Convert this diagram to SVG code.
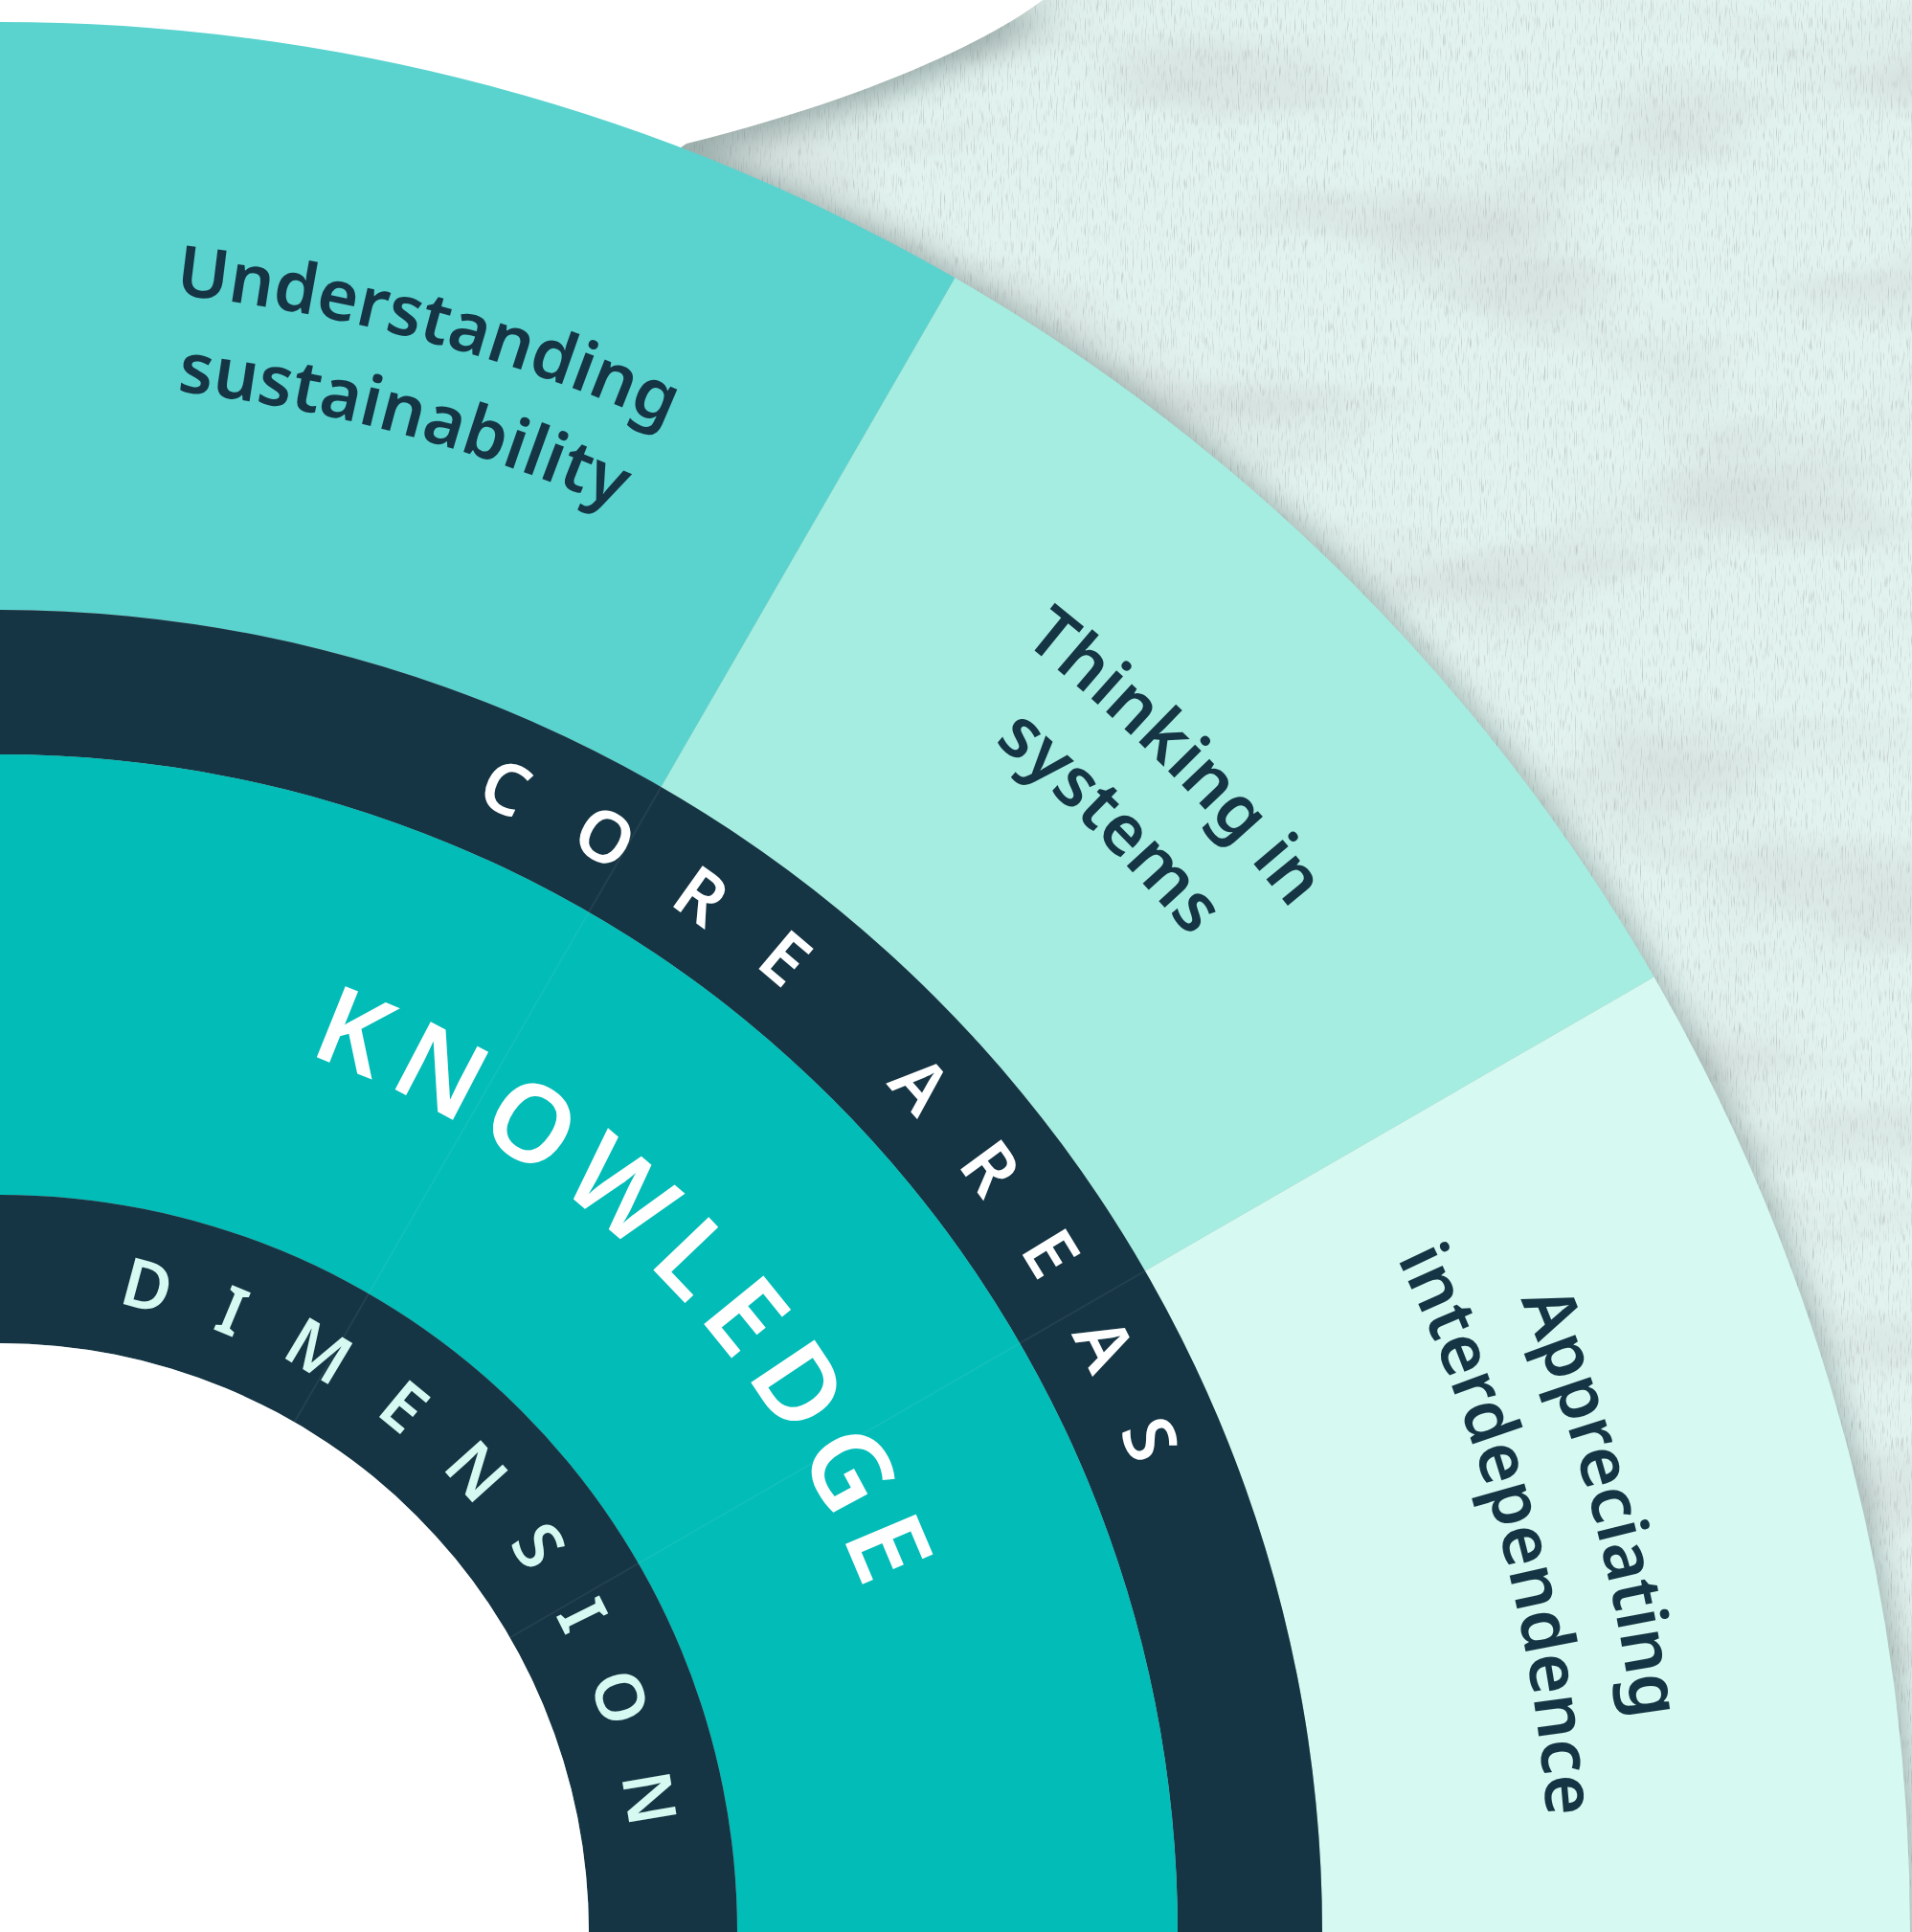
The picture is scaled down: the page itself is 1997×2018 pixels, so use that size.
<svg xmlns="http://www.w3.org/2000/svg" width="1997" height="2018" viewBox="0 0 1997 2018">
  <style>
    .lbl { font-family: "Noto Sans", "Liberation Sans", sans-serif; font-size: 73px; font-weight: 600; fill: #163544; }
    .ring { font-family: "Noto Sans", "Liberation Sans", sans-serif; font-weight: 600; }
    .seam { stroke: #ffffff; stroke-opacity: 0.06; stroke-width: 2; fill: none; }
  </style>
  <defs>
    <filter id="grain" filterUnits="userSpaceOnUse" x="0" y="0" width="1997" height="2018">
      <feTurbulence type="fractalNoise" baseFrequency="0.9 0.06" numOctaves="2" seed="7" result="fine"/>
      <feColorMatrix in="fine" type="matrix" values="0 0 0 0 0.45  0 0 0 0 0.5  0 0 0 0 0.5  2.2 0 0 0 -1.2" result="fineA"/>
      <feTurbulence type="fractalNoise" baseFrequency="0.003 0.008" numOctaves="3" seed="2" result="big"/>
      <feColorMatrix in="big" type="matrix" values="0 0 0 0 0.6  0 0 0 0 0.65  0 0 0 0 0.64  1.5 0 0 0 -0.68" result="bigA"/>
      <feMerge><feMergeNode in="bigA"/><feMergeNode in="fineA"/></feMerge>
    </filter>
    <filter id="blur" x="-10%" y="-10%" width="120%" height="120%">
      <feGaussianBlur stdDeviation="16"/>
    </filter>
    <path id="pU" d="M 0 298 A 1720 1720 0 0 1 860 528.4"/>
    <path id="pS" d="M 0 398 A 1620 1620 0 0 1 810 615.1"/>
    <path id="pT" d="M 860 528.4 A 1720 1720 0 0 1 1489.6 1158"/>
    <path id="pSy" d="M 810 615.1 A 1620 1620 0 0 1 1402.9 1208"/>
    <path id="pA" d="M 1489.6 1158 A 1720 1720 0 0 1 1720 2018"/>
    <path id="pI" d="M 1402.9 1208 A 1620 1620 0 0 1 1620 2018"/>
    <path id="pCore" d="M 0 738 A 1280 1280 0 0 1 1280 2018"/>
    <path id="pKnow" d="M 0 1047 A 971 971 0 0 1 971 2018"/>
    <path id="pDim" d="M 0 1351 A 667 667 0 0 1 667 2018"/>
  </defs>

  <g id="background">
    <rect x="0" y="0" width="1997" height="2018" fill="#E2F3EF"/>
    <rect x="0" y="0" width="1997" height="2018" fill="#000" filter="url(#grain)"/>
    <g filter="url(#blur)" opacity="0.5">
      <circle cx="0" cy="2018" r="2000" fill="#5d7371"/>
      <path d="M 0 0 L 1097 0 C 1038 45 908 105 725 150 L 600 230 L 0 230 Z" fill="#5d7371" transform="translate(6,10)"/>
    </g>
    <path d="M 0 0 L 1089 0 C 1030 45 900 105 717 150 L 600 230 L 0 230 Z" fill="#ffffff"/>
  </g>

  <g id="segment-understanding">
    <path d="M 0 23 A 1995 1995 0 0 1 997.5 290.3 L 690.5 822 A 1381 1381 0 0 0 0 637 Z" fill="#5AD3CF"/>
    <text class="lbl"><textPath href="#pU" startOffset="50%" text-anchor="middle">Understanding</textPath></text>
    <text class="lbl"><textPath href="#pS" startOffset="50%" text-anchor="middle">sustainability</textPath></text>
  </g>

  <g id="segment-thinking">
    <path d="M 997.5 290.3 A 1995 1995 0 0 1 1727.7 1020.5 L 1196 1327.5 A 1381 1381 0 0 0 690.5 822 Z" fill="#A5EDE0"/>
    <text class="lbl"><textPath href="#pT" startOffset="50%" text-anchor="middle">Thinking in</textPath></text>
    <text class="lbl"><textPath href="#pSy" startOffset="50%" text-anchor="middle">systems</textPath></text>
  </g>

  <g id="segment-appreciating">
    <path d="M 1727.7 1020.5 A 1995 1995 0 0 1 1995 2018 L 1381 2018 A 1381 1381 0 0 0 1196 1327.5 Z" fill="#D6F9F1"/>
    <text class="lbl"><textPath href="#pA" startOffset="50%" text-anchor="middle">Appreciating</textPath></text>
    <text class="lbl"><textPath href="#pI" startOffset="50%" text-anchor="middle">interdependence</textPath></text>
  </g>

  <g id="ring-core-areas">
    <path d="M 0 637 A 1381 1381 0 0 1 1381 2018 L 1230 2018 A 1230 1230 0 0 0 0 788 Z" fill="#163544"/>
    <text class="ring" font-size="74" fill="#ffffff" letter-spacing="62.5"><textPath href="#pCore" startOffset="508">CORE AREAS</textPath></text>
  </g>

  <g id="ring-knowledge">
    <path d="M 0 788 A 1230 1230 0 0 1 1230 2018 L 770 2018 A 770 770 0 0 0 0 1248 Z" fill="#02BCB7"/>
    <text class="ring" font-size="112" font-weight="700" fill="#ffffff" letter-spacing="16"><textPath href="#pKnow" startOffset="327">KNOWLEDGE</textPath></text>
  </g>

  <g id="ring-dimension">
    <path d="M 0 1248 A 770 770 0 0 1 770 2018 L 615 2018 A 615 615 0 0 0 0 1403 Z" fill="#163544"/>
    <text class="ring" font-size="70" fill="#D6F9F1" letter-spacing="50.5"><textPath href="#pDim" startOffset="123">DIMENSION</textPath></text>
  </g>

  <g id="connectors">
    <line class="seam" x1="307.5" y1="1485.4" x2="690.5" y2="822"/>
    <line class="seam" x1="532.6" y1="1710.5" x2="1196" y2="1327.5"/>
  </g>

  <g id="center">
    <path d="M 0 1403 A 615 615 0 0 1 615 2018 L 0 2018 Z" fill="#ffffff"/>
  </g>
</svg>
